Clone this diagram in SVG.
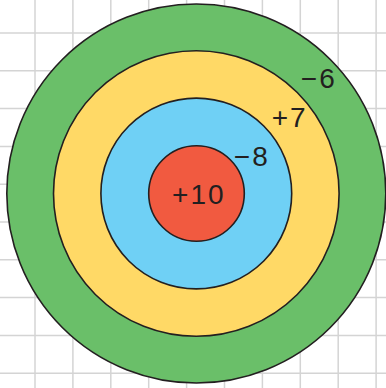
<svg xmlns="http://www.w3.org/2000/svg" width="386" height="388" viewBox="0 0 386 388">
<style>
.grid line{stroke:#d4d4d4;stroke-width:1.5}
.ring{stroke:#231f20;stroke-width:1.6}
.lbl{font-family:"Liberation Sans",Arial,sans-serif;font-size:28px;letter-spacing:2px;fill:#231f20;text-anchor:middle}
</style>
<rect width="386" height="388" fill="#ffffff"/>
<g class="grid">
<line x1="35" y1="0" x2="35" y2="388"/>
<line x1="72.9" y1="0" x2="72.9" y2="388"/>
<line x1="110.8" y1="0" x2="110.8" y2="388"/>
<line x1="148.7" y1="0" x2="148.7" y2="388"/>
<line x1="186.6" y1="0" x2="186.6" y2="388"/>
<line x1="224.5" y1="0" x2="224.5" y2="388"/>
<line x1="262.4" y1="0" x2="262.4" y2="388"/>
<line x1="300.3" y1="0" x2="300.3" y2="388"/>
<line x1="338.2" y1="0" x2="338.2" y2="388"/>
<line x1="376.1" y1="0" x2="376.1" y2="388"/>
<line x1="0" y1="33" x2="386" y2="33"/>
<line x1="0" y1="70.8" x2="386" y2="70.8"/>
<line x1="0" y1="108.6" x2="386" y2="108.6"/>
<line x1="0" y1="146.4" x2="386" y2="146.4"/>
<line x1="0" y1="184.2" x2="386" y2="184.2"/>
<line x1="0" y1="222" x2="386" y2="222"/>
<line x1="0" y1="259.8" x2="386" y2="259.8"/>
<line x1="0" y1="297.6" x2="386" y2="297.6"/>
<line x1="0" y1="335.4" x2="386" y2="335.4"/>
<line x1="0" y1="373.2" x2="386" y2="373.2"/>
</g>
<g id="ring-6">
<circle class="ring" cx="196.3" cy="193.5" r="189.5" fill="#6abf69"/>
<text class="lbl" x="318.8" y="88">−6</text>
</g>
<g id="ring-7">
<circle class="ring" cx="196.3" cy="193.5" r="142.8" fill="#ffd966"/>
<text class="lbl" x="289.7" y="127">+7</text>
</g>
<g id="ring-8">
<circle class="ring" cx="196.3" cy="193.5" r="95.4" fill="#6fd0f5"/>
<text class="lbl" x="251.8" y="166">−8</text>
</g>
<g id="ring-10">
<circle class="ring" cx="196.5" cy="193.5" r="47.8" fill="#f15a40"/>
<text class="lbl" x="198.8" y="204">+10</text>
</g>
</svg>
